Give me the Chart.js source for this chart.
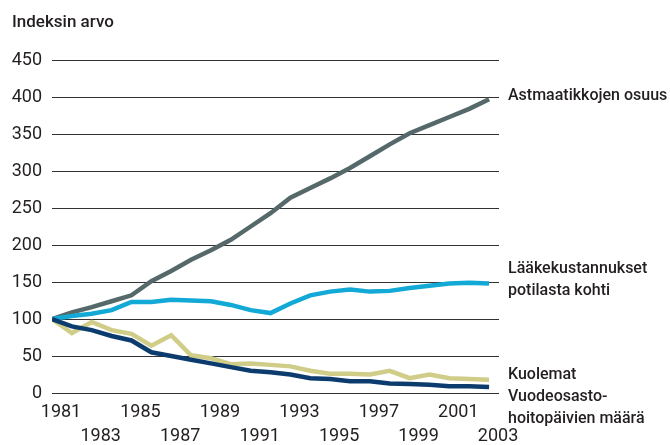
<!DOCTYPE html>
<html>
<head>
<meta charset="utf-8">
<script src="https://cdn.jsdelivr.net/npm/chart.js@4.4.1/dist/chart.umd.min.js"></script>
<style>
  html, body { margin: 0; padding: 0; background: #fff; }
  canvas { display: block; }
</style>
</head>
<body>
<canvas id="chart" width="670" height="445"></canvas>
<script>
( function () {
	'use strict';

	// annual index values, 1981 = 100
	var years = [ 1981, 1982, 1983, 1984, 1985, 1986, 1987, 1988, 1989, 1990, 1991, 1992,
		1993, 1994, 1995, 1996, 1997, 1998, 1999, 2000, 2001, 2002, 2003 ];
	var tickYears = [ 1981, 1983, 1985, 1987, 1989, 1991, 1993, 1995, 1997, 1999, 2001, 2003 ];
	var yTicks = [ 0, 50, 100, 150, 200, 250, 300, 350, 400, 450 ];

	var astmaatikot = [ 100, 109, 116, 124, 132, 151, 165, 180, 193, 207, 225, 243,
		264, 277, 290, 304, 320, 336, 351, 362, 373, 384, 397 ];
	var laakekulut = [ 100, 104, 107, 112, 123, 123, 126, 125, 124, 119, 112, 108,
		121, 132, 137, 140, 137, 138, 142, 145, 148, 149, 148 ];
	var kuolemat = [ 100, 81, 96, 85, 80, 64, 78, 51, 47, 39, 40, 38,
		36, 30, 26, 26, 25, 30, 20, 25, 20, 19, 18 ];
	var hoitopaivat = [ 100, 90, 85, 77, 71, 55, 50, 45, 40, 35, 30, 28,
		25, 20, 19, 16, 16, 13, 12, 11, 9, 9, 8 ];

	var FONT = 'Roboto, "Liberation Sans", sans-serif';
	var TEXT = '#231f20';

	function points( values ) {
		return years.map( function ( yr, i ) {
			return { x: yr, y: values[ i ] };
		} );
	}

	function series( values, color ) {
		return {
			data: points( values ),
			borderColor: color,
			backgroundColor: color,
			borderWidth: 4.5,
			pointRadius: 0,
			tension: 0,
			fill: false,
		};
	}

	// title and line labels at the right
	var labelsPlugin = {
		id: 'labels',
		afterDraw: function ( chart ) {
			var ctx = chart.ctx;
			ctx.save();
			ctx.fillStyle = TEXT;
			ctx.textAlign = 'left';
			ctx.textBaseline = 'alphabetic';
			ctx.font = '500 17px ' + FONT;
			ctx.fillText( 'Indeksin arvo', 12, 27 );

			ctx.font = '500 16px ' + FONT;
			var lines = [
				[ 'Astmaatikkojen osuus', 100 ],
				[ 'Lääkekustannukset', 273 ],
				[ 'potilasta kohti', 295 ],
				[ 'Kuolemat', 379 ],
				[ 'Vuodeosasto-', 401 ],
				[ 'hoitopäivien määrä', 423 ],
			];
			lines.forEach( function ( l ) {
				ctx.fillText( l[ 0 ], 508, l[ 1 ] );
			} );
			ctx.restore();
		},
	};

	new Chart( document.getElementById( 'chart' ).getContext( '2d' ), {
		type: 'line',
		data: {
			datasets: [
				series( hoitopaivat, '#0c3c6e' ),
				series( kuolemat, '#cfcd88' ),
				series( laakekulut, '#12a9d6' ),
				series( astmaatikot, '#56696a' ),
			],
		},
		options: {
			responsive: false,
			animation: false,
			devicePixelRatio: 1,
			layout: { padding: { left: 0, right: 171, top: 60, bottom: 0 } },
			plugins: {
				legend: { display: false },
				tooltip: { enabled: false },
			},
			scales: {
				x: {
					type: 'linear',
					min: 1981,
					max: 2003.5,
					grid: { display: false, drawTicks: false },
					border: { display: false },
					afterFit: function ( s ) { s.height = 52; },
					afterBuildTicks: function ( s ) {
						s.ticks = tickYears.map( function ( v ) { return { value: v }; } );
					},
					ticks: {
						autoSkip: false,
						maxRotation: 0,
						padding: 8,
						labelOffset: 9,
						color: TEXT,
						font: { family: FONT, size: 18, lineHeight: 1.333 },
						callback: function ( v ) {
							var i = tickYears.indexOf( v );
							return i % 2 === 0 ? [ String( v ) ] : [ '', String( v ) ];
						},
					},
				},
				y: {
					min: 0,
					max: 450,
					grid: { color: '#333', lineWidth: 1, drawTicks: false },
					border: { display: false },
					afterFit: function ( s ) { s.width = 52; },
					afterBuildTicks: function ( s ) {
						s.ticks = yTicks.map( function ( v ) { return { value: v }; } );
					},
					ticks: {
						padding: 10,
						color: TEXT,
						font: { family: FONT, size: 18 },
					},
				},
			},
		},
		plugins: [ labelsPlugin ],
	} );
} )();
</script>
</body>
</html>
